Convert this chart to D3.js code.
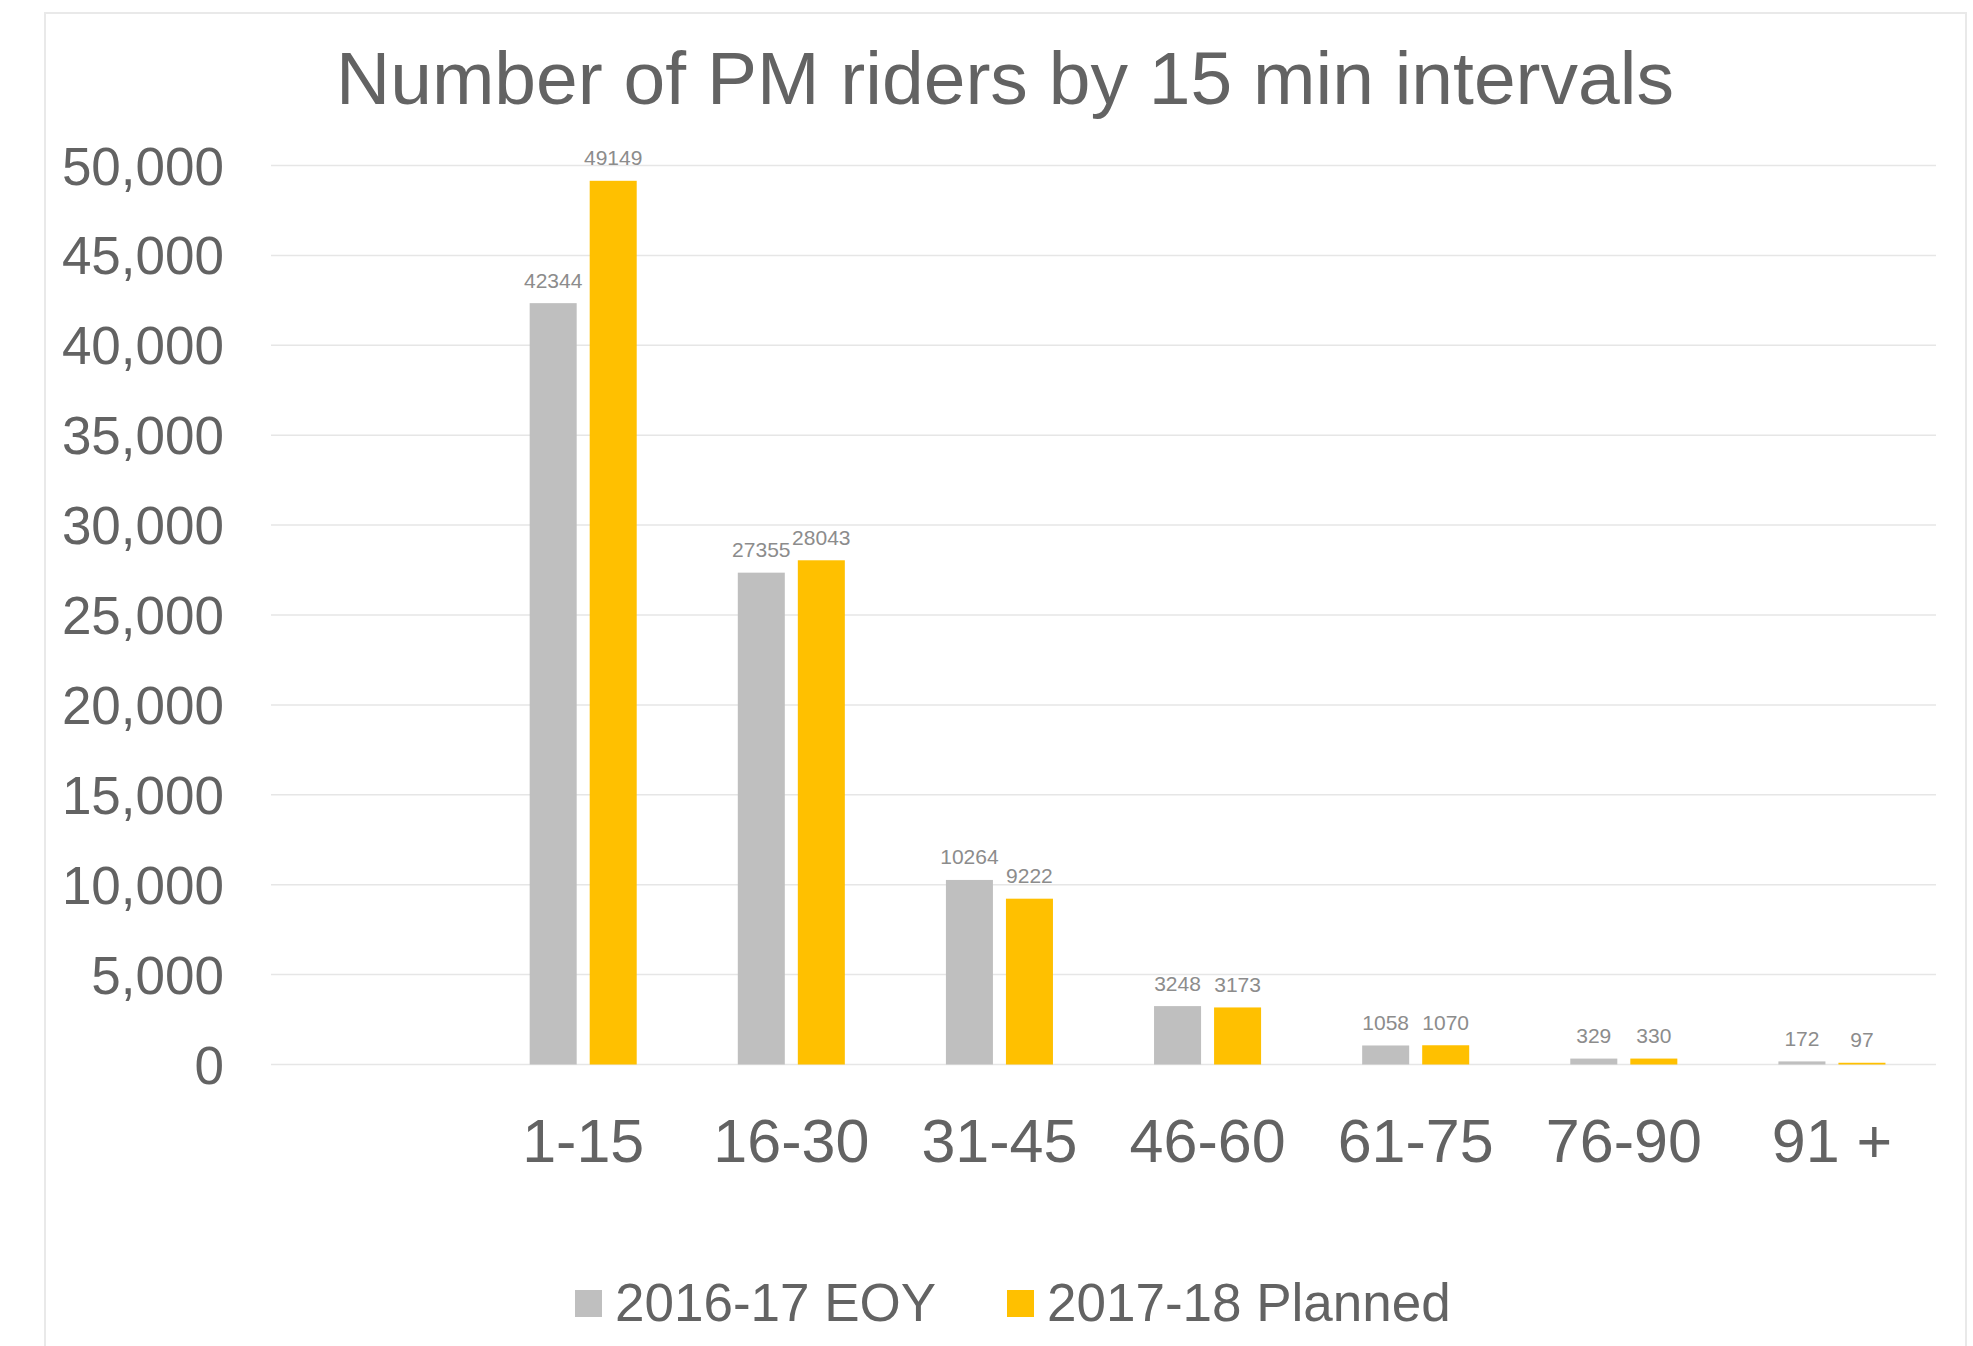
<!DOCTYPE html>
<html>
<head>
<meta charset="utf-8">
<script src="https://cdn.jsdelivr.net/npm/d3@7"></script>
<style>
  body { margin: 0; background: #fff; }
  text { font-family: "Liberation Sans", Arial, sans-serif; }
</style>
</head>
<body>
<script>
// categories (first slot is an empty category in the source chart)
var categories = ["", "1-15", "16-30", "31-45", "46-60", "61-75", "76-90", "91 +"];
var seriesNames = ["2016-17 EOY", "2017-18 Planned"];
var eoy = [null, 42344, 27355, 10264, 3248, 1058, 329, 172];
var planned = [null, 49149, 28043, 9222, 3173, 1070, 330, 97];
var yTicks = [0, 5000, 10000, 15000, 20000, 25000, 30000, 35000, 40000, 45000, 50000];

var colors = ["#bfbfbf", "#ffc000"];
var textColor = "#636363",
    labelColor = "#8c8c8c";

var width = 1973,
    height = 1346;

var svg = d3.select("body").append("svg")
    .attr("width", width)
    .attr("height", height);

// chart area border
svg.append("rect")
    .attr("x", 45)
    .attr("y", 13)
    .attr("width", 1921)
    .attr("height", 1400)
    .attr("fill", "#fff")
    .attr("stroke", "#e9e9e9")
    .attr("stroke-width", 2);

var plot = { left: 271, right: 1936, top: 165.5, bottom: 1064.5 };

var x0 = d3.scaleBand()
    .domain(categories)
    .range([plot.left, plot.right]);

// 47px bars with 13px gap inside a 208px band
var x1 = d3.scaleBand()
    .domain(seriesNames)
    .range([0, x0.bandwidth()])
    .paddingInner(0.2167)
    .paddingOuter(0.842);

var y = d3.scaleLinear()
    .domain([0, 50000])
    .range([plot.bottom, plot.top]);

// gridlines
svg.append("g")
  .selectAll("line")
  .data(yTicks)
  .join("line")
    .attr("x1", plot.left)
    .attr("x2", plot.right)
    .attr("y1", d => y(d))
    .attr("y2", d => y(d))
    .attr("stroke", "#e6e6e6")
    .attr("stroke-width", 1.5);

// y axis labels
svg.append("g")
  .selectAll("text")
  .data(yTicks)
  .join("text")
    .attr("x", 224)
    .attr("y", d => y(d))
    .attr("dy", "0.36em")
    .attr("text-anchor", "end")
    .attr("fill", textColor)
    .style("font-size", "53px")
    .text(d => d3.format(",")(d));

// x axis labels
svg.append("g")
  .selectAll("text")
  .data(categories)
  .join("text")
    .attr("x", d => x0(d) + x0.bandwidth() / 2)
    .attr("y", 1162)
    .attr("text-anchor", "middle")
    .attr("fill", textColor)
    .style("font-size", "61px")
    .text(d => d);

// bars
var series = [eoy, planned];
series.forEach(function(vals, s) {
  var pts = categories.map((c, i) => ({ cat: c, v: vals[i] })).filter(d => d.v != null);
  var g = svg.append("g");

  g.selectAll("rect")
    .data(pts)
    .join("rect")
      .attr("x", d => x0(d.cat) + x1(seriesNames[s]))
      .attr("y", d => y(d.v))
      .attr("width", x1.bandwidth())
      .attr("height", d => y(0) - y(d.v))
      .attr("fill", colors[s]);

  g.selectAll("text")
    .data(pts)
    .join("text")
      .attr("x", d => x0(d.cat) + x1(seriesNames[s]) + x1.bandwidth() / 2)
      .attr("y", d => y(d.v) - 15.5)
      .attr("text-anchor", "middle")
      .attr("fill", labelColor)
      .style("font-size", "21px")
      .text(d => d.v);
});

// title
svg.append("text")
    .attr("x", 1005)
    .attr("y", 104)
    .attr("text-anchor", "middle")
    .attr("fill", textColor)
    .style("font-size", "75px")
    .text("Number of PM riders by 15 min intervals");

// legend
var legendX = [575, 1007];
var legend = svg.append("g")
  .selectAll("g")
  .data(seriesNames)
  .join("g")
    .attr("transform", (d, i) => `translate(${legendX[i]},0)`);

legend.append("rect")
    .attr("x", 0)
    .attr("y", 1290)
    .attr("width", 27)
    .attr("height", 27)
    .attr("fill", (d, i) => colors[i]);

legend.append("text")
    .attr("x", 40)
    .attr("y", 1321)
    .attr("fill", textColor)
    .style("font-size", "53px")
    .text(d => d);
</script>
</body>
</html>
